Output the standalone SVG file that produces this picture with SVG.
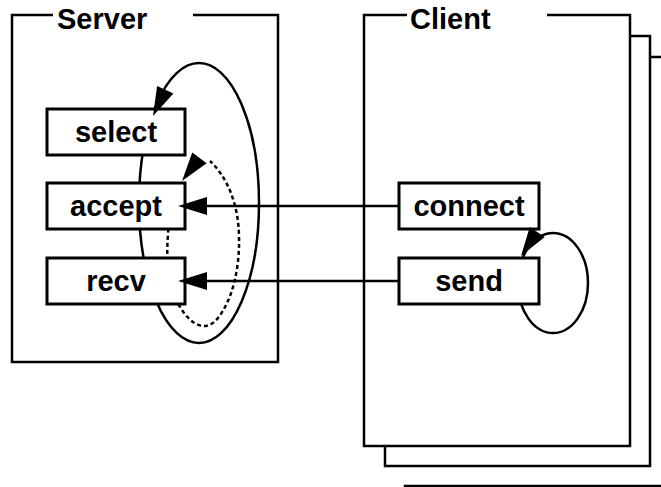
<svg xmlns="http://www.w3.org/2000/svg" xmlns:xlink="http://www.w3.org/1999/xlink" width="661" height="487" viewBox="0 0 661 487">
<style>
.frame{fill:none;stroke:#000;stroke-width:2.5}
.title{font-family:"Liberation Sans",Arial,Helvetica,sans-serif;font-weight:bold;font-size:29px;fill:#000}
.box{fill:#fff;stroke:#000;stroke-width:3}
.lbl{font-family:"Liberation Sans",Arial,Helvetica,sans-serif;font-weight:bold;font-size:29px;fill:#000;text-anchor:middle}
.conn{fill:none;stroke:#000;stroke-width:2.5}
.dash{fill:none;stroke:#000;stroke-width:2.5;stroke-dasharray:4 3}
.ah{fill:#000}
</style>
<defs>
<path id="ah" d="M0,0 L-29,-9 L-29,9 Z"/>
<mask id="boxmask" maskUnits="userSpaceOnUse" x="0" y="0" width="661" height="487">
<rect x="0" y="0" width="661" height="487" fill="#fff"/>
<rect x="47" y="109" width="138" height="46" fill="#000"/>
<rect x="47" y="183" width="138" height="46" fill="#000"/>
<rect x="47" y="258" width="138" height="46" fill="#000"/>
<rect x="399" y="183" width="140" height="46" fill="#000"/>
<rect x="399" y="258" width="140" height="46" fill="#000"/>
</mask>
</defs>
<rect width="661" height="487" fill="#fff"/>
<g id="server-frame">
<path class="frame" d="M53,15 H12 V362 H278 V15 H193"/>
<text class="title" x="57" y="29">Server</text>
</g>
<g id="client-frame">
<path class="frame" d="M405,487 V486 H661"/>
<path class="frame" d="M650,57 H661"/>
<path class="frame" d="M385,446 V466 H650 V36 H630"/>
<path class="frame" d="M407,15 H364 V446 H630 V15 H547"/>
<text class="title" x="410" y="29">Client</text>
</g>
<g id="select"><rect class="box" x="47" y="109" width="138" height="46"/><text class="lbl" x="116" y="142">select</text></g>
<g id="accept"><rect class="box" x="47" y="183" width="138" height="46"/><text class="lbl" x="116" y="216">accept</text></g>
<g id="recv"><rect class="box" x="47" y="258" width="138" height="46"/><text class="lbl" x="116" y="291">recv</text></g>
<g id="connect"><rect class="box" x="399" y="183" width="140" height="46"/><text class="lbl" x="469" y="216">connect</text></g>
<g id="send"><rect class="box" x="399" y="258" width="140" height="46"/><text class="lbl" x="469" y="291">send</text></g>
<g id="connectors">
<g mask="url(#boxmask)">
<ellipse class="conn" cx="199" cy="203" rx="60" ry="140"/>
<path class="dash" d="M170,215 C166,245 164,285 182,310 C192,325 206,333 218,318 C232,300 240,270 239,235 C238,200 225,175 210,161"/>
<ellipse class="conn" cx="553" cy="283" rx="35" ry="50"/>
</g>
<path class="conn" d="M399,206 H200"/>
<path class="conn" d="M399,281 H200"/>
<use href="#ah" class="ah" transform="translate(178,206) rotate(180)"/>
<use href="#ah" class="ah" transform="translate(178,281) rotate(180)"/>
<use href="#ah" class="ah" transform="translate(153,116) rotate(115)"/>
<use href="#ah" class="ah" transform="translate(182,181) rotate(127)"/>
<use href="#ah" class="ah" transform="translate(521,256) rotate(124)"/>
</g>
</svg>
